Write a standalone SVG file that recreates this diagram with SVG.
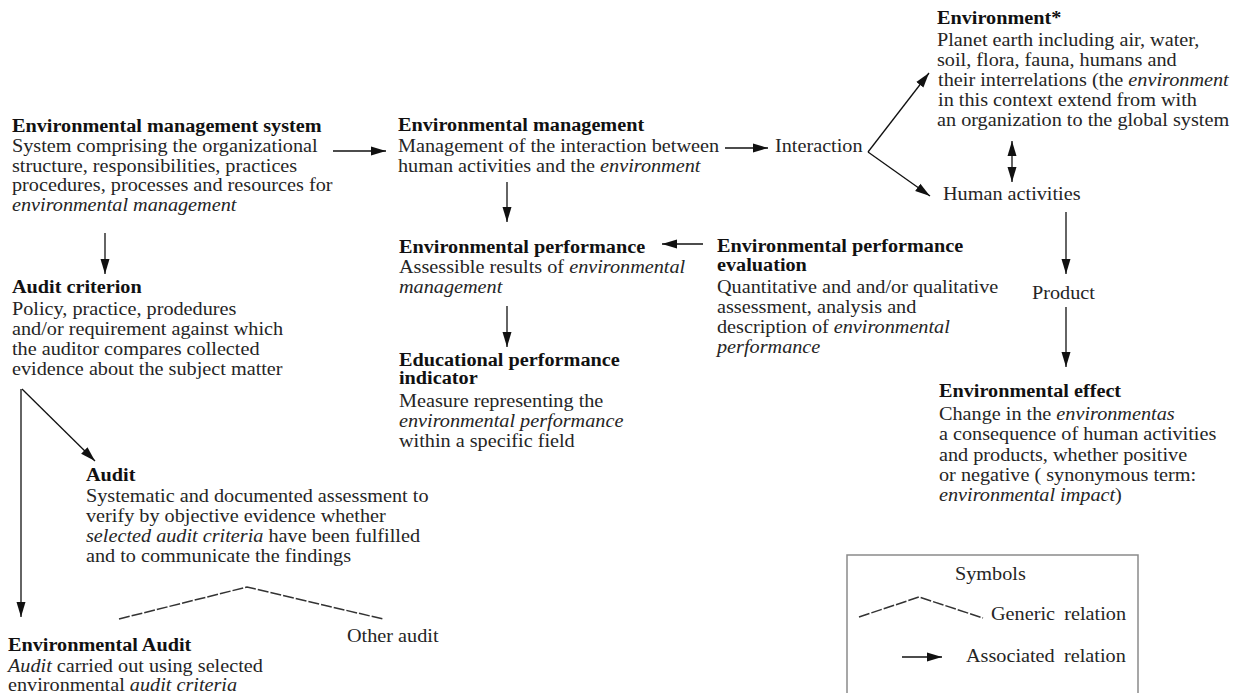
<svg xmlns="http://www.w3.org/2000/svg" width="1250" height="693" viewBox="0 0 1250 693">
<defs>
<style>
.t{font-family:"Liberation Serif","Times New Roman",serif;font-size:19px;fill:#252525}
.b{font-weight:bold;fill:#111}
.i{font-style:italic}
.c{stroke:#111;stroke-width:1.3;fill:none}
.g{stroke:#333;stroke-width:1.5;fill:none;stroke-dasharray:11 2}
.box{fill:none;stroke:#8a8a8a;stroke-width:1.5}
</style>
<marker id="ah" markerWidth="15" markerHeight="10" refX="15" refY="5" orient="auto-start-reverse" markerUnits="userSpaceOnUse">
<path d="M0,0.5 L15,5 L0,9.5 Z" fill="#111"/>
</marker>
</defs>
<rect width="1250" height="693" fill="#ffffff"/>

<g id="connectors">
<line class="c" x1="333" y1="151" x2="386" y2="151" marker-end="url(#ah)"/>
<line class="c" x1="725" y1="148" x2="768" y2="148" marker-end="url(#ah)"/>
<line class="c" x1="868" y1="152" x2="929" y2="73" marker-end="url(#ah)"/>
<line class="c" x1="868" y1="152" x2="930" y2="196" marker-end="url(#ah)"/>
<line class="c" x1="1012" y1="141" x2="1012" y2="182" marker-start="url(#ah)" marker-end="url(#ah)"/>
<line class="c" x1="1066" y1="212" x2="1066" y2="274" marker-end="url(#ah)"/>
<line class="c" x1="1066" y1="307" x2="1066" y2="367" marker-end="url(#ah)"/>
<line class="c" x1="507" y1="182" x2="507" y2="222" marker-end="url(#ah)"/>
<line class="c" x1="703" y1="244" x2="662" y2="244" marker-end="url(#ah)"/>
<line class="c" x1="507" y1="306" x2="507" y2="347" marker-end="url(#ah)"/>
<line class="c" x1="105" y1="233" x2="105" y2="274" marker-end="url(#ah)"/>
<line class="c" x1="22" y1="389" x2="95" y2="461" marker-end="url(#ah)"/>
<line class="c" x1="21" y1="389" x2="21" y2="617" marker-end="url(#ah)"/>
<polyline class="g" points="119,619 247,587 383,619"/>
</g>

<g id="n-ems" transform="translate(12,0) scale(1.065,1)">
<text class="t b" x="0" y="132">Environmental management system</text>
<text class="t" x="0" y="152">System comprising the organizational</text>
<text class="t" x="0" y="172">structure, responsibilities, practices</text>
<text class="t" x="0" y="191">procedures, processes and resources for</text>
<text class="t i" x="0" y="211">environmental management</text>
</g>

<g id="n-em" transform="translate(398,0) scale(1.065,1)">
<text class="t b" x="0" y="131">Environmental management</text>
<text class="t" x="0" y="152">Management of the interaction between</text>
<text class="t" x="0" y="172">human activities and the <tspan class="i">environment</tspan></text>
</g>

<g id="n-interaction" transform="translate(775,0) scale(1.065,1)">
<text class="t" x="0" y="152">Interaction</text>
</g>

<g id="n-environment" transform="translate(937,0) scale(1.065,1)">
<text class="t b" x="0" y="24">Environment*</text>
<text class="t" x="0" y="46">Planet earth including air, water,</text>
<text class="t" x="0" y="66">soil, flora, fauna, humans and</text>
<text class="t" x="1" y="86">their interrelations (the <tspan class="i">environment</tspan></text>
<text class="t" x="1" y="106">in this context extend from with</text>
<text class="t" x="0" y="126">an organization to the global system</text>
</g>

<g id="n-human" transform="translate(943,0) scale(1.065,1)">
<text class="t" x="0" y="200">Human activities</text>
</g>

<g id="n-product" transform="translate(1032,0) scale(1.065,1)">
<text class="t" x="0" y="299">Product</text>
</g>

<g id="n-effect" transform="translate(939,0) scale(1.065,1)">
<text class="t b" x="0" y="397">Environmental effect</text>
<text class="t" x="0" y="420">Change in the <tspan class="i">environmentas</tspan></text>
<text class="t" x="0" y="440">a consequence of human activities</text>
<text class="t" x="0" y="461">and products, whether positive</text>
<text class="t" x="0" y="481">or negative ( synonymous term:</text>
<text class="t i" x="0" y="501">environmental impact<tspan font-style="normal">)</tspan></text>
</g>

<g id="n-ep" transform="translate(399,0) scale(1.065,1)">
<text class="t b" x="0" y="253">Environmental performance</text>
<text class="t" x="0" y="273">Assessible results of <tspan class="i">environmental</tspan></text>
<text class="t i" x="0" y="293">management</text>
</g>

<g id="n-epe" transform="translate(717,0) scale(1.065,1)">
<text class="t b" x="0" y="252">Environmental performance</text>
<text class="t b" x="0" y="271">evaluation</text>
<text class="t" x="0" y="293">Quantitative and and/or qualitative</text>
<text class="t" x="0" y="313">assessment, analysis and</text>
<text class="t" x="0" y="333">description of <tspan class="i">environmental</tspan></text>
<text class="t i" x="0" y="353">performance</text>
</g>

<g id="n-epi" transform="translate(399,0) scale(1.065,1)">
<text class="t b" x="0" y="366">Educational performance</text>
<text class="t b" x="0" y="384">indicator</text>
<text class="t" x="0" y="407">Measure representing the</text>
<text class="t" x="0" y="427"><tspan class="i">environmental performance</tspan></text>
<text class="t" x="0" y="447">within a specific field</text>
</g>

<g id="n-criterion" transform="translate(12,0) scale(1.065,1)">
<text class="t b" x="0" y="293">Audit criterion</text>
<text class="t" x="0" y="315">Policy, practice, prodedures</text>
<text class="t" x="0" y="335">and/or requirement against which</text>
<text class="t" x="0" y="355">the auditor compares collected</text>
<text class="t" x="0" y="375">evidence about the subject matter</text>
</g>

<g id="n-audit" transform="translate(86,0) scale(1.065,1)">
<text class="t b" x="0" y="481">Audit</text>
<text class="t" x="0" y="502">Systematic and documented assessment to</text>
<text class="t" x="0" y="522">verify by objective evidence whether</text>
<text class="t" x="0" y="542"><tspan class="i">selected audit criteria</tspan> have been fulfilled</text>
<text class="t" x="0" y="562">and to communicate the findings</text>
</g>

<g id="n-other" transform="translate(347,0) scale(1.065,1)">
<text class="t" x="0" y="642">Other audit</text>
</g>

<g id="n-envaudit" transform="translate(8,0) scale(1.065,1)">
<text class="t b" x="0" y="651">Environmental Audit</text>
<text class="t" x="0" y="672"><tspan class="i">Audit</tspan> carried out using selected</text>
<text class="t" x="0" y="691">environmental <tspan class="i">audit criteria</tspan></text>
</g>

<g id="legend">
<rect class="box" x="847" y="555" width="291" height="145"/>
<text class="t" x="955" y="580" transform="translate(955,0) scale(1.065,1) translate(-955,0)">Symbols</text>
<polyline class="g" points="859,617 919,597 983,618"/>
<text class="t" x="991" y="620" word-spacing="4" transform="translate(991,0) scale(1.065,1) translate(-991,0)">Generic relation</text>
<line class="c" x1="902" y1="657" x2="942" y2="657" marker-end="url(#ah)"/>
<text class="t" x="966" y="662" word-spacing="4" transform="translate(966,0) scale(1.065,1) translate(-966,0)">Associated relation</text>
</g>
</svg>
